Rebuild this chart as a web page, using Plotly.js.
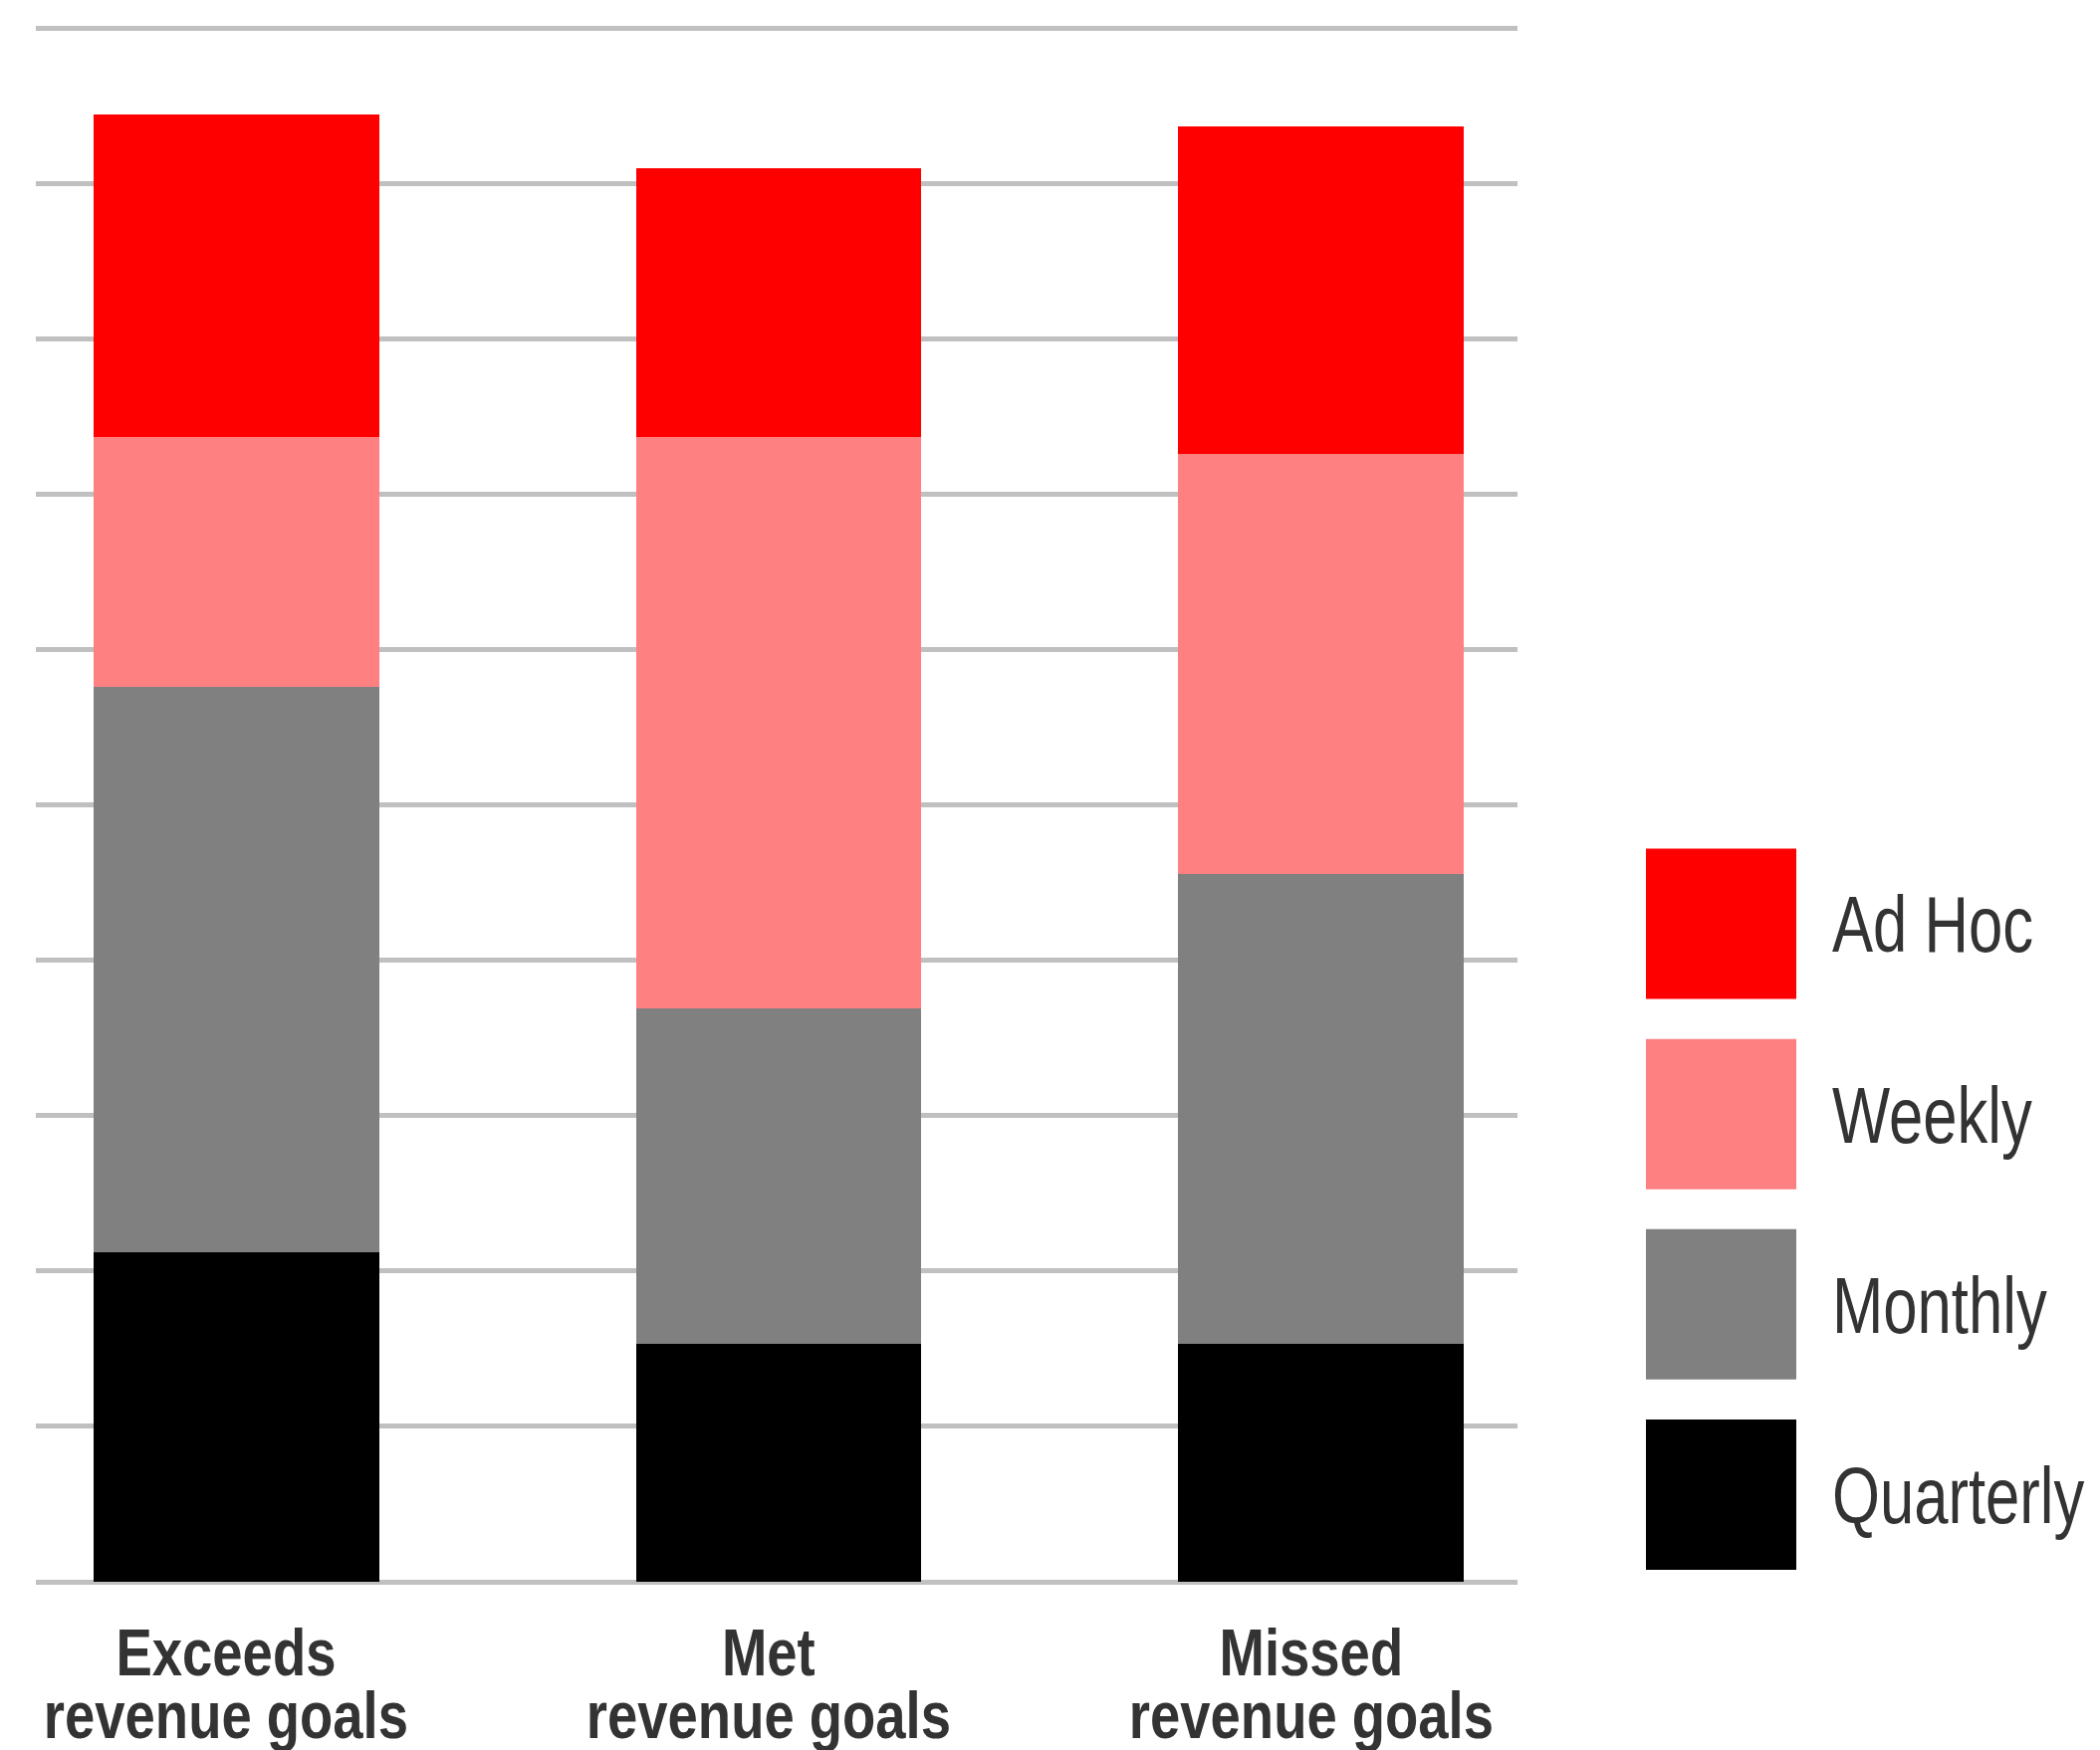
<!DOCTYPE html>
<html>
<head>
<meta charset="utf-8">
<script src="https://cdn.plot.ly/plotly-3.0.1.min.js"></script>
<style>
  html, body { margin: 0; padding: 0; background: #ffffff; }
  #chart { width: 2109px; height: 1758px; }
  /* condensed look for the category labels and the key labels */
  #chart .annotation-text {
    transform-box: fill-box;
    transform-origin: center;
    transform: scaleX(0.825);
  }
  #chart .textpoint text {
    transform-box: fill-box;
    transform-origin: left center;
    transform: scaleX(0.78);
  }
</style>
</head>
<body>
<div id="chart"></div>
<script>
// Reporting cadence by revenue-goal outcome (stacked, share of respondents)
const categories = ['Exceeds', 'Met', 'Missed'];
const categorySubtitle = 'revenue goals';

const quarterly = [21.2, 15.3, 15.3];
const monthly   = [36.4, 21.6, 30.3];
const weekly    = [16.1, 36.8, 27.0];
const adHoc     = [20.8, 17.3, 21.1];

const seriesNames  = ['Quarterly', 'Monthly', 'Weekly', 'Ad Hoc'];
const seriesColors = ['#000000', '#808080', '#ff8080', '#ff0000'];
const seriesValues = [quarterly, monthly, weekly, adHoc];

const labelFont = 'Liberation Sans, Arial, sans-serif';
const textColor = '#333333';

// Plot-area geometry in page pixels
const PLOT_BOTTOM = 1589;   // value 0
const PLOT_HEIGHT = 1568;   // range 0 .. 100.5
const toPaperY = px => (PLOT_BOTTOM - px) / PLOT_HEIGHT;

// Stacked bars, bottom segment first
const barTraces = seriesNames.map((name, i) => ({
  type: 'bar',
  name: name,
  x: categories,
  y: seriesValues[i],
  marker: { color: seriesColors[i], line: { width: 0 } },
  xaxis: 'x',
  yaxis: 'y',
  showlegend: false,
  hoverinfo: 'skip'
}));

// Custom key: big square swatches on their own hidden axes, Ad Hoc at the top
const keyRows = seriesNames.map((_, i) => i);   // Quarterly = 0 ... Ad Hoc = 3
const swatchTrace = {
  type: 'scatter',
  mode: 'markers',
  x: keyRows.map(() => 0),
  y: keyRows,
  marker: { symbol: 'square', size: 151, color: seriesColors, line: { width: 0 } },
  xaxis: 'x2',
  yaxis: 'y2',
  showlegend: false,
  hoverinfo: 'skip',
  cliponaxis: false
};
const keyTextTrace = {
  type: 'scatter',
  mode: 'text',
  x: keyRows.map(() => 111.5),
  y: keyRows.map(r => r - 0.045),
  text: seriesNames,
  textposition: 'middle right',
  textfont: { family: labelFont, size: 79, color: textColor },
  xaxis: 'x2',
  yaxis: 'y2',
  showlegend: false,
  hoverinfo: 'skip',
  cliponaxis: false
};

// Two-line category labels under each stack
const annotations = [];
categories.forEach(c => {
  annotations.push({
    x: c, xref: 'x', y: toPaperY(1699), yref: 'paper', xshift: -10,
    yanchor: 'bottom', xanchor: 'center', showarrow: false,
    text: '<b>' + c + '</b>',
    font: { family: labelFont, size: 66, color: textColor }
  });
  annotations.push({
    x: c, xref: 'x', y: toPaperY(1762), yref: 'paper', xshift: -10,
    yanchor: 'bottom', xanchor: 'center', showarrow: false,
    text: '<b>' + categorySubtitle + '</b>',
    font: { family: labelFont, size: 66, color: textColor }
  });
});

const layout = {
  width: 2109,
  height: 1758,
  margin: { l: 36, r: 0, t: 1758 - 169 - PLOT_HEIGHT, b: 169, pad: 0 },
  paper_bgcolor: '#ffffff',
  plot_bgcolor: '#ffffff',
  barmode: 'stack',
  bargap: 0.473,
  showlegend: false,
  hovermode: false,
  xaxis: {
    domain: [0, 0.7178],
    range: [-0.370, 2.3627],
    type: 'category',
    showgrid: false,
    zeroline: false,
    showline: false,
    showticklabels: false,
    ticks: ''
  },
  yaxis: {
    range: [0, 100.5],
    tickvals: [0, 10, 20, 30, 40, 50, 60, 70, 80, 90, 100],
    showgrid: true,
    gridcolor: '#c0c0c0',
    gridwidth: 5,
    zeroline: true,
    zerolinecolor: '#c0c0c0',
    zerolinewidth: 5,
    showline: false,
    showticklabels: false,
    ticks: ''
  },
  xaxis2: {
    domain: [0.78003, 1],
    range: [-75.5, 380.5],
    anchor: 'y2',
    visible: false
  },
  yaxis2: {
    domain: [0, toPaperY(832.5)],
    range: [-0.4577, 3.5],
    anchor: 'x2',
    visible: false
  },
  annotations: annotations
};

Plotly.newPlot('chart', barTraces.concat([swatchTrace, keyTextTrace]), layout, { staticPlot: true, displayModeBar: false });
</script>
</body>
</html>
